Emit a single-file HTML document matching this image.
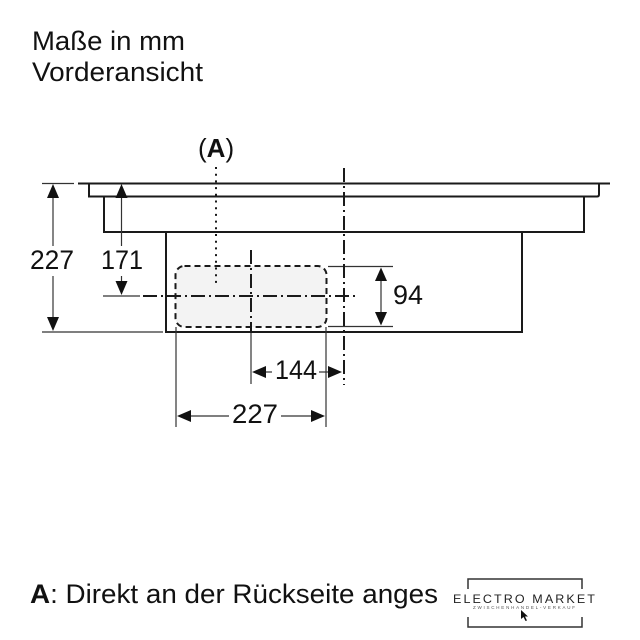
<!DOCTYPE html>
<html><head><meta charset="utf-8"><style>
html,body{margin:0;padding:0;background:#fff;}
svg{display:block;}
text{font-family:"Liberation Sans",Arial,sans-serif;fill:#111;}
</style></head><body>
<svg width="640" height="640" viewBox="0 0 640 640" xmlns="http://www.w3.org/2000/svg">
<rect width="640" height="640" fill="#fff"/>
<!-- title -->
<text x="32" y="50" font-size="27" textLength="153" lengthAdjust="spacingAndGlyphs">Maße in mm</text>
<text x="32" y="81" font-size="27" textLength="171" lengthAdjust="spacingAndGlyphs">Vorderansicht</text>
<!-- (A) -->
<text x="198" y="157" font-size="26">(<tspan font-weight="bold">A</tspan>)</text>

<!-- dashed area fill -->
<rect x="175.5" y="266" width="151" height="61" rx="9" fill="#f3f3f3" stroke="none"/>

<g stroke="#1a1a1a" fill="none" stroke-width="2">
  <!-- glass top -->
  <line x1="78" y1="183.5" x2="610" y2="183.5"/>
  <!-- plate -->
  <path d="M89 183.5 V196.5 H597 Q599 196.5 599 194.5 V183.5"/>
  <!-- frame step -->
  <path d="M104 196.5 V232 H584 V196.5"/>
  <!-- box -->
  <path d="M166 232 V332 H522 V232"/>
</g>

<!-- extension lines (thin) -->
<g stroke="#333" stroke-width="1.2" fill="none">
  <line x1="42" y1="183.5" x2="74" y2="183.5"/>
  <line x1="42" y1="332" x2="163" y2="332"/>
  <line x1="103" y1="296" x2="140" y2="296"/>
  <line x1="328" y1="266.5" x2="393" y2="266.5"/>
  <line x1="328" y1="326.5" x2="393" y2="326.5"/>
  <line x1="176" y1="327" x2="176" y2="427"/>
  <line x1="326" y1="327" x2="326" y2="427"/>
  <line x1="251" y1="333" x2="251" y2="384"/>
  <!-- dim lines -->
  <line x1="53" y1="195" x2="53" y2="246"/>
  <line x1="53" y1="276" x2="53" y2="320"/>
  <line x1="121.5" y1="196" x2="121.5" y2="246"/>
  <line x1="121.5" y1="276" x2="121.5" y2="284"/>
  <line x1="381" y1="278" x2="381" y2="315"/>
  <line x1="263" y1="372" x2="272" y2="372"/>
  <line x1="319" y1="372" x2="331" y2="372"/>
  <line x1="188" y1="416" x2="229" y2="416"/>
  <line x1="281" y1="416" x2="314" y2="416"/>
</g>

<!-- arrowheads -->
<g fill="#111" stroke="none">
  <polygon points="53,184 47,198 59,198"/>
  <polygon points="53,331 47,317 59,317"/>
  <polygon points="121.5,184 115.5,198 127.5,198"/>
  <polygon points="121.5,295 115.5,281 127.5,281"/>
  <polygon points="381,267.5 375,281 387,281"/>
  <polygon points="381,325.5 375,312 387,312"/>
  <polygon points="252,372 266,366 266,378"/>
  <polygon points="342,372 328,366 328,378"/>
  <polygon points="177,416 191,410 191,422"/>
  <polygon points="325,416 311,410 311,422"/>
</g>

<!-- dashed rounded rect -->
<rect x="175.5" y="266" width="151" height="61" rx="9" fill="none" stroke="#1a1a1a" stroke-width="2" stroke-dasharray="6 4"/>

<!-- center lines -->
<g stroke="#1a1a1a" stroke-width="2" fill="none">
  <line x1="143" y1="296" x2="357" y2="296" stroke-dasharray="14 4 2 4"/>
  <line x1="251" y1="250" x2="251" y2="332" stroke-dasharray="14 4 2 4"/>
  <line x1="344" y1="168" x2="344" y2="385" stroke-dasharray="14 4 2 4"/>
  <line x1="216" y1="167" x2="216" y2="284" stroke-dasharray="2 4.7"/>
</g>

<!-- dimension text -->
<text x="30" y="269" font-size="26.5" textLength="44" lengthAdjust="spacingAndGlyphs">227</text>
<text x="101" y="269" font-size="26.5" textLength="42" lengthAdjust="spacingAndGlyphs">171</text>
<text x="393" y="304" font-size="26.5" textLength="30" lengthAdjust="spacingAndGlyphs">94</text>
<text x="275" y="379" font-size="26.5" textLength="42" lengthAdjust="spacingAndGlyphs">144</text>
<text x="232" y="423" font-size="26.5" textLength="46" lengthAdjust="spacingAndGlyphs">227</text>

<!-- footnote -->
<text x="30" y="603" font-size="27" textLength="408" lengthAdjust="spacingAndGlyphs"><tspan font-weight="bold">A</tspan>: Direkt an der Rückseite anges</text>

<!-- logo -->
<g stroke="#333" stroke-width="1.5" fill="none">
  <path d="M468 589 V579 H582 V589"/>
  <path d="M468 617 V627 H582 V617"/>
</g>
<text x="453" y="603" font-size="12" textLength="144" lengthAdjust="spacingAndGlyphs" style="fill:#222;letter-spacing:2px">ELECTRO MARKET</text>
<text x="473" y="609" font-size="4.5" textLength="102" lengthAdjust="spacing" style="fill:#555">ZWISCHENHANDEL-VERKAUF</text>
<polygon points="521,610 521,619 523.5,617 525.5,621 527,620.5 525,616.5 528,616.5" fill="#111"/>
</svg>
</body></html>
